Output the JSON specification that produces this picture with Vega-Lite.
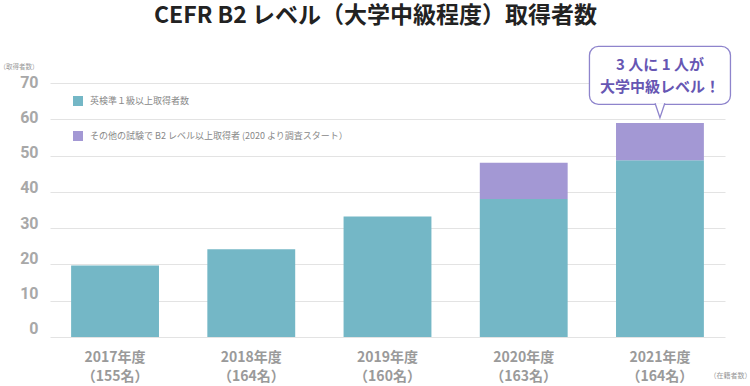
{
  "$schema": "https://vega.github.io/schema/vega-lite/v6.json",
  "width": 675,
  "height": 254,
  "autosize": "none",
  "padding": {"left": 50, "top": 83, "right": 25, "bottom": 49},
  "background": "white",
  "config": {
    "view": {"stroke": null},
    "font": "Noto Sans CJK JP",
    "axisY": {
      "titleFont": "Noto Sans CJK JP",
      "titleFontSize": 6.5,
      "titleColor": "#999999",
      "titleFontWeight": "normal",
      "titleAngle": 0,
      "titleX": -51,
      "titleY": -17,
      "titleAlign": "left",
      "titleBaseline": "middle",
      "labelOverlap": false,
      "labelFlush": false,
      "labelFont": "Roboto",
      "labelFontSize": 16,
      "labelFontWeight": "bold",
      "labelColor": "#a8a8a8",
      "labelBaseline": "middle",
      "labelPadding": 12,
      "labelOffset": {"expr": "0.12 * datum.value - 8.7"},
      "ticks": false,
      "domain": false,
      "grid": true,
      "gridColor": "#e3e3e3",
      "gridWidth": 1
    }
  },
  "title": {
    "text": "CEFR B2 レベル（大学中級程度）取得者数",
    "font": "Noto Sans CJK JP",
    "fontSize": 23,
    "fontWeight": "bold",
    "color": "#222222",
    "anchor": "middle",
    "frame": "group",
    "dx": -12,
    "baseline": "alphabetic",
    "offset": 0
  },
  "datasets": {
    "bars": [
      {"year": "2017年度|（155名）", "type": "英検準１級以上取得者数", "count": 19.7},
      {"year": "2018年度|（164名）", "type": "英検準１級以上取得者数", "count": 24.2},
      {"year": "2019年度|（160名）", "type": "英検準１級以上取得者数", "count": 33.2},
      {"year": "2020年度|（163名）", "type": "英検準１級以上取得者数", "count": 38},
      {"year": "2020年度|（163名）", "type": "その他の試験で B2 レベル以上取得者 (2020 より調査スタート）", "count": 10},
      {"year": "2021年度|（164名）", "type": "英検準１級以上取得者数", "count": 48.7},
      {"year": "2021年度|（164名）", "type": "その他の試験で B2 レベル以上取得者 (2020 より調査スタート）", "count": 10.3}
    ],
    "callout": [
      {"year": "2021年度|（164名）", "low": 64.1, "high": 80.1, "mid": 75.0, "tip": 62.2, "note": "3 人に 1 人が\n大学中級レベル！"}
    ]
  },
  "encoding": {
    "x": {
      "field": "year",
      "type": "nominal",
      "sort": null,
      "scale": {"paddingInner": 0.355, "paddingOuter": 0.155},
      "axis": {
        "title": "（在籍者数）",
        "titleFont": "Noto Sans CJK JP",
        "titleFontSize": 7,
        "titleColor": "#999999",
        "titleFontWeight": "normal",
        "titleX": 659,
        "titleY": 38,
        "titleAlign": "left",
        "titleBaseline": "middle",
        "labelExpr": "split(datum.value, '|')",
        "labelAngle": 0,
        "labelFont": "Noto Sans CJK JP",
        "labelFontSize": 14,
        "labelColor": "#9a9a9a",
        "labelFontWeight": "bold",
        "labelLineHeight": 19,
        "labelPadding": 13,
        "labelBaseline": "top",
        "ticks": false,
        "domain": false
      }
    }
  },
  "layer": [
    {
      "data": {"name": "bars"},
      "mark": {"type": "bar"},
      "encoding": {
        "y": {
          "field": "count",
          "type": "quantitative",
          "stack": "zero",
          "scale": {"domain": [0, 70]},
          "axis": {"title": "（取得者数）", "values": [0, 10, 20, 30, 40, 50, 60, 70]}
        },
        "color": {
          "field": "type",
          "type": "nominal",
          "scale": {
            "domain": ["英検準１級以上取得者数", "その他の試験で B2 レベル以上取得者 (2020 より調査スタート）"],
            "range": ["#74b7c6", "#a398d4"]
          },
          "legend": {
            "orient": "none",
            "legendX": 23,
            "legendY": 13,
            "title": null,
            "padding": 0,
            "symbolType": "square",
            "symbolSize": 100,
            "symbolStrokeWidth": 0,
            "symbolOpacity": 1,
            "labelFont": "Noto Sans CJK JP",
            "labelFontSize": 9,
            "labelColor": "#888888",
            "labelOffset": 7,
            "rowPadding": 25,
            "labelLimit": 400
          }
        },
        "order": {"field": "type", "sort": "descending"}
      }
    },
    {
      "data": {"name": "callout"},
      "mark": {"type": "bar", "width": 141, "cornerRadius": 9, "fill": "white", "stroke": "#8e84cc", "strokeWidth": 1.3},
      "encoding": {
        "y": {"field": "low", "type": "quantitative", "axis": {"title": "（取得者数）", "values": [0, 10, 20, 30, 40, 50, 60, 70]}},
        "y2": {"field": "high"}
      }
    },
    {
      "data": {"name": "callout"},
      "mark": {"type": "point", "shape": "M-0.75,-1.25L0,1L0.75,-1.25", "size": 169, "filled": true, "fill": "white", "opacity": 1, "stroke": "#8e84cc", "strokeWidth": 1.3},
      "encoding": {
        "y": {"field": "tip", "type": "quantitative", "axis": {"title": "（取得者数）", "values": [0, 10, 20, 30, 40, 50, 60, 70]}}
      }
    },
    {
      "data": {"name": "callout"},
      "mark": {"type": "text", "lineBreak": "\n", "lineHeight": 22, "font": "Noto Sans CJK JP", "fontSize": 15, "fontWeight": "bold", "color": "#6656b3", "baseline": "middle", "align": "center"},
      "encoding": {
        "y": {"field": "mid", "type": "quantitative", "axis": {"title": "（取得者数）", "values": [0, 10, 20, 30, 40, 50, 60, 70]}},
        "text": {"field": "note"}
      }
    }
  ]
}
